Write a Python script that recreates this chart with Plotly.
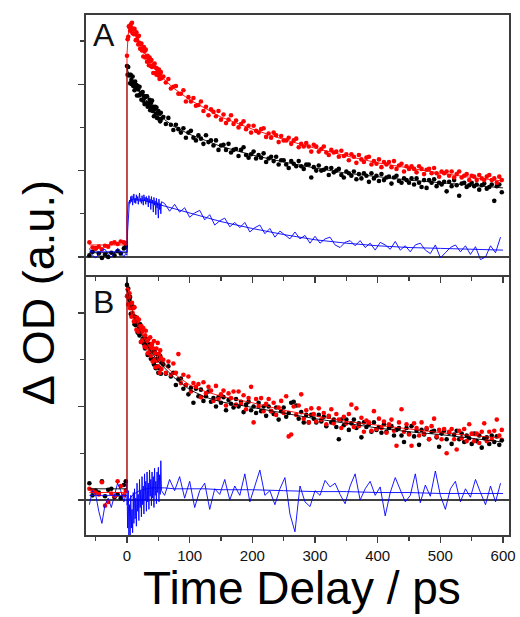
import plotly.graph_objects as go
from plotly.subplots import make_subplots

FONT = "Arial, 'Liberation Sans', Helvetica, sans-serif"

# ---------------- time grids (ps) ----------------
t_pre = [-60, -55, -50, -45, -40, -35, -30, -25, -20, -15, -10, -5, -2]
t_early = [0, 1, 2, 3, 4, 5, 6, 7, 8, 9, 10, 11, 12, 13, 14, 15, 16, 17, 18, 19,
           20, 21, 22, 23, 24, 25, 26, 27, 28, 29, 30, 31, 32, 33, 34, 35, 36, 37, 38, 39,
           40, 41, 42, 43, 44, 45, 46, 47, 48, 49, 50, 51, 52, 53, 54, 55]
t_late = [58, 62, 66, 70, 74, 78, 82, 86, 90, 94, 98, 102, 106, 110, 114, 118, 122, 126, 130, 134,
          138, 142, 146, 150, 154, 158, 162, 166, 170, 174, 178, 182, 186, 190, 194, 198, 202, 206, 210, 214,
          218, 222, 226, 230, 234, 238, 242, 246, 250, 254, 258, 262, 266, 270, 274, 278, 282, 286, 290, 294,
          298, 302, 306, 310, 314, 318, 322, 326, 330, 334, 338, 342, 346, 350, 354, 358, 362, 366, 370, 374,
          378, 382, 386, 390, 394, 398, 402, 406, 410, 414, 418, 422, 426, 430, 434, 438, 442, 446, 450, 454,
          458, 462, 466, 470, 474, 478, 482, 486, 490, 494, 498, 502, 506, 510, 514, 518, 522, 526, 530, 534,
          538, 542, 546, 550, 554, 558, 562, 566, 570, 574, 578, 582, 586, 590, 594, 598]
t_blue_late = [60, 68, 76, 84, 92, 100, 108, 116, 124, 132, 140, 148, 156, 164, 172, 180, 188, 196, 204, 212,
               220, 228, 236, 244, 252, 260, 268, 276, 284, 292, 300, 308, 316, 324, 332, 340, 348, 356, 364, 372,
               380, 388, 396, 404, 412, 420, 428, 436, 444, 452, 460, 468, 476, 484, 492, 500, 508, 516, 524, 532,
               540, 548, 556, 564, 572, 580, 588, 596]
t_fit = [-60, 0, 0, 2, 5, 10, 15, 20, 30, 40, 50, 60, 75, 100, 125, 150, 200, 250, 300, 350, 400, 450, 500, 550, 600]

# ---------------- panel A ----------------
a_black_pre = [0.02, 0.06, 0.10, 0.04, -0.01, 0.03, 0.00, 0.05, 0.02, 0.07, 0.04, 0.10, 0.12]
a_black_early = [2.21, 2.11, 2.20, 2.10, 2.11, 2.01, 2.11, 2.05, 2.00, 2.09, 1.98, 2.02, 1.93, 2.03, 1.96, 1.99,
                 1.87, 1.98, 1.94, 1.87, 1.97, 1.88, 1.89, 1.82, 1.90, 1.91, 1.81, 1.86, 1.77, 1.85, 1.86, 1.78,
                 1.86, 1.74, 1.78, 1.76, 1.82, 1.70, 1.78, 1.73, 1.81, 1.69, 1.74, 1.63, 1.71, 1.74, 1.66, 1.73,
                 1.61, 1.66, 1.69, 1.60, 1.66, 1.57, 1.67, 1.60]
a_black_late = [1.62, 1.54, 1.61, 1.53, 1.47, 1.53, 1.48, 1.44, 1.49, 1.38, 1.44, 1.46, 1.38, 1.35, 1.41, 1.37,
                1.31, 1.41, 1.33, 1.35, 1.29, 1.35, 1.24, 1.29, 1.30, 1.24, 1.31, 1.21, 1.24, 1.25, 1.17, 1.24,
                1.27, 1.18, 1.15, 1.19, 1.22, 1.14, 1.18, 1.15, 1.20, 1.10, 1.14, 1.16, 1.11, 1.16, 1.07, 1.12,
                1.12, 1.07, 1.03, 1.11, 1.08, 1.05, 1.11, 1.05, 1.02, 1.07, 1.07, 0.92, 1.04, 1.00, 1.06, 1.00,
                1.01, 1.03, 0.95, 1.03, 0.98, 1.00, 1.02, 0.95, 0.92, 0.99, 0.97, 0.94, 0.99, 0.90, 0.96, 0.91,
                0.97, 0.94, 0.87, 0.97, 0.91, 0.94, 0.88, 0.96, 0.89, 0.92, 0.93, 0.85, 0.92, 0.94, 0.88, 0.86,
                0.91, 0.89, 0.86, 0.91, 0.84, 0.91, 0.86, 0.81, 0.89, 0.80, 0.89, 0.86, 0.90, 0.82, 0.86, 0.84,
                0.87, 0.76, 0.87, 0.82, 0.89, 0.83, 0.71, 0.85, 0.86, 0.81, 0.83, 0.86, 0.82, 0.84, 0.78, 0.83,
                0.85, 0.79, 0.81, 0.84, 0.65, 0.82, 0.84, 0.75]
a_red_pre = [0.17, 0.11, 0.10, 0.12, 0.09, 0.13, 0.12, 0.16, 0.17, 0.15, 0.18, 0.17, 0.16]
a_red_early = [2.33, 2.52, 2.55, 2.67, 2.66, 2.62, 2.69, 2.65, 2.71, 2.59, 2.64, 2.58, 2.64, 2.58, 2.51, 2.60,
               2.51, 2.55, 2.46, 2.56, 2.48, 2.41, 2.46, 2.47, 2.39, 2.40, 2.32, 2.43, 2.38, 2.31, 2.40, 2.32,
               2.26, 2.33, 2.30, 2.22, 2.31, 2.27, 2.21, 2.28, 2.20, 2.21, 2.13, 2.23, 2.24, 2.13, 2.19, 2.11,
               2.18, 2.14, 2.10, 2.17, 2.06, 2.12, 2.14, 2.07]
a_red_late = [2.09, 2.02, 2.06, 1.95, 1.97, 1.98, 1.89, 1.89, 1.93, 1.80, 1.85, 1.80, 1.84, 1.75, 1.76, 1.80,
              1.69, 1.74, 1.64, 1.71, 1.68, 1.63, 1.69, 1.59, 1.65, 1.55, 1.59, 1.64, 1.54, 1.58, 1.50, 1.54,
              1.57, 1.48, 1.52, 1.44, 1.52, 1.46, 1.44, 1.48, 1.49, 1.39, 1.43, 1.38, 1.44, 1.41, 1.33, 1.40,
              1.35, 1.35, 1.38, 1.31, 1.35, 1.37, 1.27, 1.31, 1.28, 1.32, 1.28, 1.22, 1.30, 1.28, 1.22, 1.25,
              1.28, 1.21, 1.18, 1.24, 1.21, 1.22, 1.16, 1.23, 1.17, 1.19, 1.12, 1.19, 1.16, 1.09, 1.18, 1.13,
              1.10, 1.15, 1.16, 1.07, 1.11, 1.08, 1.13, 1.04, 1.10, 1.07, 1.10, 1.04, 1.11, 1.02, 1.06, 1.08,
              0.99, 1.05, 1.02, 1.05, 1.02, 0.98, 1.05, 1.02, 0.96, 1.01, 1.02, 0.97, 1.03, 0.97, 0.93, 0.99,
              0.97, 0.99, 0.94, 0.99, 0.92, 0.96, 0.99, 0.92, 0.94, 0.96, 0.89, 0.94, 0.93, 0.89, 0.95, 0.91,
              0.89, 0.93, 0.95, 0.89, 0.91, 0.86, 0.93, 0.89]
a_blue_pre = [0.10, 0.02, -0.01, 0.04, 0.08, 0.09, 0.03, 0.00, 0.05, 0.10, 0.07, 0.00, 0.04]
a_blue_early = [0.02, 0.30, 0.48, 0.60, 0.66, 0.62, 0.70, 0.64, 0.71, 0.60, 0.67, 0.73, 0.63, 0.68, 0.62, 0.72,
                0.65, 0.70, 0.61, 0.69, 0.74, 0.64, 0.68, 0.62, 0.71, 0.66, 0.60, 0.72, 0.65, 0.69, 0.61, 0.70,
                0.64, 0.68, 0.58, 0.71, 0.63, 0.67, 0.55, 0.70, 0.62, 0.66, 0.52, 0.69, 0.60, 0.65, 0.49, 0.68,
                0.57, 0.63, 0.45, 0.67, 0.55, 0.62, 0.50, 0.64]
a_blue_late = [0.62, 0.53, 0.61, 0.52, 0.57, 0.46, 0.51, 0.54, 0.43, 0.49, 0.37, 0.42, 0.45, 0.35, 0.40, 0.34,
               0.40, 0.29, 0.34, 0.37, 0.27, 0.33, 0.23, 0.30, 0.26, 0.21, 0.29, 0.21, 0.25, 0.16, 0.24, 0.16,
               0.21, 0.23, 0.14, 0.11, 0.17, 0.19, 0.13, 0.19, 0.11, 0.16, 0.08, 0.17, 0.14, 0.09, 0.18, 0.08,
               0.13, 0.06, 0.14, 0.16, 0.08, 0.04, 0.14, -0.01, 0.05, 0.11, 0.14, 0.06, 0.13, 0.03, 0.12, -0.03,
               0.00, 0.13, 0.05, 0.23]
a_black_fit = [0.05, 0.05, 2.18, 2.14, 2.08, 2.01, 1.96, 1.91, 1.82, 1.74, 1.66, 1.59, 1.51, 1.42, 1.35, 1.28,
               1.18, 1.10, 1.03, 0.97, 0.93, 0.89, 0.86, 0.83, 0.80]
a_red_fit = [0.14, 0.14, 2.35, 2.58, 2.66, 2.62, 2.55, 2.47, 2.34, 2.22, 2.13, 2.05, 1.95, 1.82, 1.72, 1.62,
             1.48, 1.36, 1.26, 1.17, 1.09, 1.03, 0.97, 0.92, 0.88]
a_blue_fit = [0.06, 0.06, 0.45, 0.62, 0.66, 0.67, 0.67, 0.66, 0.65, 0.63, 0.61, 0.59, 0.56, 0.51, 0.46, 0.41,
              0.33, 0.26, 0.20, 0.16, 0.13, 0.11, 0.10, 0.09, 0.08]

# ---------------- panel B ----------------
b_black_pre = [0.18, 0.05, 0.10, 0.08, 0.20, 0.04, 0.11, 0.12, 0.03, 0.06, 0.02, 0.16, 0.20]
b_black_early = [2.30, 2.18, 2.26, 2.09, 2.14, 2.17, 1.99, 2.06, 1.99, 2.07, 1.97, 2.06, 1.88, 1.96, 1.87, 1.90,
                 1.94, 1.79, 1.89, 1.83, 1.76, 1.88, 1.81, 1.69, 1.81, 1.72, 1.82, 1.67, 1.72, 1.62, 1.72, 1.65,
                 1.72, 1.55, 1.66, 1.67, 1.55, 1.60, 1.51, 1.65, 1.59, 1.51, 1.59, 1.45, 1.59, 1.49, 1.41, 1.56,
                 1.43, 1.51, 1.36, 1.51, 1.41, 1.54, 1.35, 1.47]
b_black_late = [1.45, 1.35, 1.43, 1.32, 1.36, 1.23, 1.29, 1.30, 1.19, 1.23, 1.13, 1.20, 1.04, 1.19, 1.11, 1.18,
                1.06, 1.11, 1.16, 1.05, 1.09, 1.00, 1.10, 1.04, 1.10, 0.96, 1.07, 1.03, 0.99, 1.08, 1.00, 1.05,
                0.94, 1.02, 1.05, 0.96, 1.00, 0.93, 1.04, 0.95, 1.00, 0.90, 1.00, 0.95, 0.92, 0.99, 0.86, 0.95,
                0.99, 0.89, 0.93, 1.04, 1.05, 1.01, 0.87, 0.94, 0.83, 0.91, 0.83, 0.91, 0.87, 0.83, 0.91, 0.84,
                0.89, 0.79, 0.89, 0.83, 0.86, 0.78, 0.65, 0.86, 0.80, 0.86, 0.75, 0.82, 0.86, 0.77, 0.82, 0.67,
                0.83, 0.78, 0.81, 0.73, 0.83, 0.75, 0.78, 0.72, 0.81, 0.73, 0.77, 0.79, 0.69, 0.75, 0.77, 0.69,
                0.62, 0.77, 0.71, 0.79, 0.68, 0.74, 0.59, 0.75, 0.70, 0.76, 0.65, 0.73, 0.74, 0.67, 0.57, 0.71,
                0.74, 0.65, 0.72, 0.60, 0.70, 0.74, 0.65, 0.71, 0.62, 0.69, 0.66, 0.60, 0.71, 0.63, 0.69, 0.56,
                0.66, 0.67, 0.60, 0.69, 0.62, 0.68, 0.59, 0.64]
b_red_pre = [0.12, 0.10, 0.08, 0.06, 0.19, -0.06, -0.02, 0.07, 0.04, 0.20, 0.15, 0.05, 0.10]
b_red_early = [2.18, 2.25, 2.09, 2.17, 2.21, 2.05, 2.10, 1.96, 2.11, 2.00, 2.05, 1.91, 2.06, 1.92, 1.94, 1.82,
               1.95, 1.91, 1.80, 1.93, 1.82, 1.86, 1.69, 1.86, 1.80, 1.71, 1.84, 1.71, 1.64, 1.76, 1.81, 1.63,
               1.70, 1.57, 1.72, 1.64, 1.59, 1.74, 1.54, 1.63, 1.67, 1.48, 1.62, 1.70, 1.50, 1.57, 1.42, 1.62,
               1.49, 1.68, 1.43, 1.56, 1.36, 1.60, 1.52, 1.40]
b_red_late = [1.50, 1.36, 1.48, 1.34, 1.46, 1.36, 1.56, 1.25, 1.34, 1.23, 1.32, 1.16, 1.25, 1.21, 1.24, 1.10,
              1.26, 1.14, 1.21, 1.17, 1.06, 1.22, 1.08, 1.13, 1.17, 1.01, 1.14, 1.09, 1.16, 1.02, 1.16, 1.03,
              1.12, 0.97, 1.09, 1.21, 0.83, 1.08, 1.00, 1.09, 0.95, 1.03, 1.08, 0.95, 1.04, 0.91, 0.99, 1.06,
              0.93, 1.11, 0.68, 0.70, 1.00, 0.91, 1.01, 1.13, 0.87, 0.96, 0.83, 0.98, 0.92, 0.84, 0.98, 0.86,
              0.93, 0.81, 0.90, 0.97, 0.82, 0.92, 0.86, 0.77, 0.89, 0.82, 0.92, 1.02, 0.78, 0.98, 0.79, 0.88,
              0.73, 0.85, 0.83, 0.74, 0.95, 0.76, 0.87, 0.77, 0.84, 0.72, 0.81, 0.86, 0.74, 0.58, 0.83, 0.97,
              0.73, 0.81, 0.70, 0.58, 0.82, 0.77, 0.69, 0.83, 0.71, 0.77, 0.65, 0.79, 0.87, 0.68, 0.75, 0.65,
              0.76, 0.50, 0.73, 0.76, 0.65, 0.54, 0.74, 0.66, 0.76, 0.63, 0.81, 0.71, 0.63, 0.71, 0.61, 0.73,
              0.82, 0.63, 0.73, 0.65, 0.74, 0.86, 0.69, 0.75]
b_blue_pre = [-0.05, 0.10, 0.06, -0.12, -0.25, -0.05, 0.02, -0.08, 0.05, 0.18, 0.10, -0.02, 0.05]
b_blue_early = [0.20, -0.30, 0.10, -0.38, -0.05, -0.42, 0.05, -0.30, -0.10, -0.35, 0.08, -0.25, 0.12, -0.20,
                0.02, -0.28, 0.18, -0.12, 0.06, -0.22, 0.22, -0.08, 0.10, -0.18, 0.25, -0.05, 0.15, -0.15,
                0.28, 0.00, 0.20, -0.12, 0.30, -0.02, 0.18, -0.10, 0.32, 0.04, 0.22, -0.06, 0.30, 0.02,
                0.25, -0.08, 0.34, 0.05, 0.20, -0.04, 0.30, 0.08, 0.35, -0.02, 0.27, 0.06, 0.42, 0.10]
b_blue_late = [0.05, 0.22, 0.10, 0.25, 0.02, 0.20, -0.08, 0.10, 0.18, -0.10, 0.12, 0.06, 0.22, 0.00, 0.15, 0.05,
               0.28, -0.02, 0.15, 0.32, 0.05, 0.10, -0.05, 0.12, 0.24, -0.15, -0.34, 0.15, -0.02, -0.07, 0.10,
               0.05, 0.21, 0.14, 0.18, 0.06, -0.04, 0.15, 0.28, 0.00, 0.12, 0.20, 0.05, 0.14, -0.17, 0.08, 0.24,
               0.10, -0.02, 0.05, 0.28, -0.03, 0.16, 0.04, 0.31, 0.05, -0.10, 0.12, 0.20, -0.02, 0.12, 0.03,
               0.22, 0.08, -0.05, 0.15, -0.02, 0.18]
b_black_fit = [0.12, 0.12, 2.25, 2.18, 2.10, 1.99, 1.90, 1.82, 1.68, 1.57, 1.48, 1.41, 1.31, 1.18, 1.10, 1.05,
               0.99, 0.93, 0.87, 0.82, 0.77, 0.73, 0.70, 0.66, 0.62]
b_red_fit = [0.08, 0.08, 2.22, 2.17, 2.10, 2.00, 1.91, 1.83, 1.70, 1.59, 1.51, 1.44, 1.35, 1.23, 1.16, 1.11,
             1.04, 0.96, 0.90, 0.84, 0.80, 0.76, 0.72, 0.69, 0.66]
b_blue_fit = [0.05, 0.05, -0.05, -0.02, 0.02, 0.06, 0.08, 0.10, 0.12, 0.13, 0.13, 0.13, 0.12, 0.12, 0.12, 0.11,
              0.11, 0.10, 0.09, 0.09, 0.08, 0.08, 0.07, 0.07, 0.07]

x_ticks = [0, 100, 200, 300, 400, 500, 600]
x_ticklabels = ["0", "100", "200", "300", "400", "500", "600"]

# --------------------------------------------------------------
t_pts = t_pre + t_early + t_late
t_blue = t_pre + t_early + t_blue_late
for arr in (a_black_pre + a_black_early + a_black_late, a_red_pre + a_red_early + a_red_late,
            b_black_pre + b_black_early + b_black_late, b_red_pre + b_red_early + b_red_late):
    if len(arr) != len(t_pts):
        raise ValueError("point length mismatch %d vs %d" % (len(arr), len(t_pts)))
for arr in (a_blue_pre + a_blue_early + a_blue_late, b_blue_pre + b_blue_early + b_blue_late):
    if len(arr) != len(t_blue):
        raise ValueError("blue length mismatch %d vs %d" % (len(arr), len(t_blue)))
for arr in (a_black_fit, a_red_fit, a_blue_fit, b_black_fit, b_red_fit, b_blue_fit):
    if len(arr) != len(t_fit):
        raise ValueError("fit length mismatch")

fig = make_subplots(rows=2, cols=1, vertical_spacing=0)

BLACK = "#000000"
RED = "#ff0000"
BLUE = "#0000ff"
FRAME = "#3c3c3c"


def add_panel(row, blk, red, blu, fblk, fred, fblu):
    fig.add_trace(go.Scatter(x=t_pts, y=blk, mode="markers",
                             marker=dict(color=BLACK, size=4.6, line=dict(width=0))), row=row, col=1)
    fig.add_trace(go.Scatter(x=t_pts, y=red, mode="markers",
                             marker=dict(color=RED, size=4.6, line=dict(width=0))), row=row, col=1)
    fig.add_trace(go.Scatter(x=t_blue, y=blu, mode="lines",
                             line=dict(color=BLUE, width=0.9)), row=row, col=1)
    fig.add_trace(go.Scatter(x=t_fit, y=fblk, mode="lines",
                             line=dict(color=BLACK, width=0.9)), row=row, col=1)
    fig.add_trace(go.Scatter(x=t_fit, y=fblu, mode="lines",
                             line=dict(color=BLUE, width=0.9)), row=row, col=1)
    fig.add_trace(go.Scatter(x=t_fit, y=fred, mode="lines",
                             line=dict(color=RED, width=0.9)), row=row, col=1)
    fig.add_hline(y=0, line=dict(color=BLACK, width=1.4), layer="below", row=row, col=1)


add_panel(1, a_black_pre + a_black_early + a_black_late, a_red_pre + a_red_early + a_red_late,
          a_blue_pre + a_blue_early + a_blue_late, a_black_fit, a_red_fit, a_blue_fit)
add_panel(2, b_black_pre + b_black_early + b_black_late, b_red_pre + b_red_early + b_red_late,
          b_blue_pre + b_blue_early + b_blue_late, b_black_fit, b_red_fit, b_blue_fit)

xcommon = dict(range=[-65.4, 609.5], tickmode="array", tickvals=x_ticks, ticktext=x_ticklabels,
               ticks="outside", ticklen=6, tickwidth=1.2, tickcolor=FRAME,
               minor=dict(ticks="outside", ticklen=4, tickwidth=1.2, tickcolor=FRAME, dtick=50, tick0=0),
               showline=True, linecolor=FRAME, linewidth=1.6, automargin=False,
               showgrid=False, zeroline=False,
               tickfont=dict(family=FONT, size=15, color="#111111"))
ycommon = dict(tick0=0, dtick=1, ticks="outside", ticklen=6, tickwidth=1.2, tickcolor=FRAME,
               minor=dict(ticks="outside", ticklen=4, tickwidth=1.2, tickcolor=FRAME, dtick=0.5, tick0=0),
               showline=True, linecolor=FRAME, linewidth=1.6, mirror=True, automargin=False,
               showgrid=False, zeroline=False, showticklabels=False)

# panel A: line at top and bottom (bottom one doubles as the panel divider)
fig.update_xaxes(showticklabels=False, mirror=True, row=1, col=1, **xcommon)
# panel B: bottom line only (top border is the divider drawn by panel A)
fig.update_xaxes(showticklabels=True, mirror=False, row=2, col=1, **xcommon)
fig.update_yaxes(range=[-0.208, 2.801], row=1, col=1, **ycommon)
fig.update_yaxes(range=[-0.374, 2.406], row=2, col=1, **ycommon)

fig.add_annotation(text="A", xref="paper", yref="paper", x=0.0425, y=0.9615,
                   xanchor="center", yanchor="middle", showarrow=False,
                   font=dict(family=FONT, size=32, color="#111111"))
fig.add_annotation(text="B", xref="paper", yref="paper", x=0.0425, y=0.448,
                   xanchor="center", yanchor="middle", showarrow=False,
                   font=dict(family=FONT, size=32, color="#111111"))
fig.add_annotation(text="Δ OD (a.u.)", xref="paper", yref="paper", x=-0.1134, y=0.465,
                   xanchor="center", yanchor="middle", textangle=-90, showarrow=False,
                   font=dict(family=FONT, size=45, color="#000000"))
fig.add_annotation(text="Time Delay / ps", xref="paper", yref="paper", x=0.510, y=-0.1025,
                   xanchor="center", yanchor="middle", showarrow=False,
                   font=dict(family=FONT, size=46, color="#000000"))

fig.update_layout(width=520, height=617, margin=dict(l=86, r=11, t=15, b=82, autoexpand=False),
                  paper_bgcolor="white", plot_bgcolor="white", showlegend=False,
                  font=dict(family=FONT))

fig.write_html("out.html", config={"displayModeBar": False, "staticPlot": True},
               post_script="document.body.style.margin='0px';document.body.style.overflow='hidden';")
